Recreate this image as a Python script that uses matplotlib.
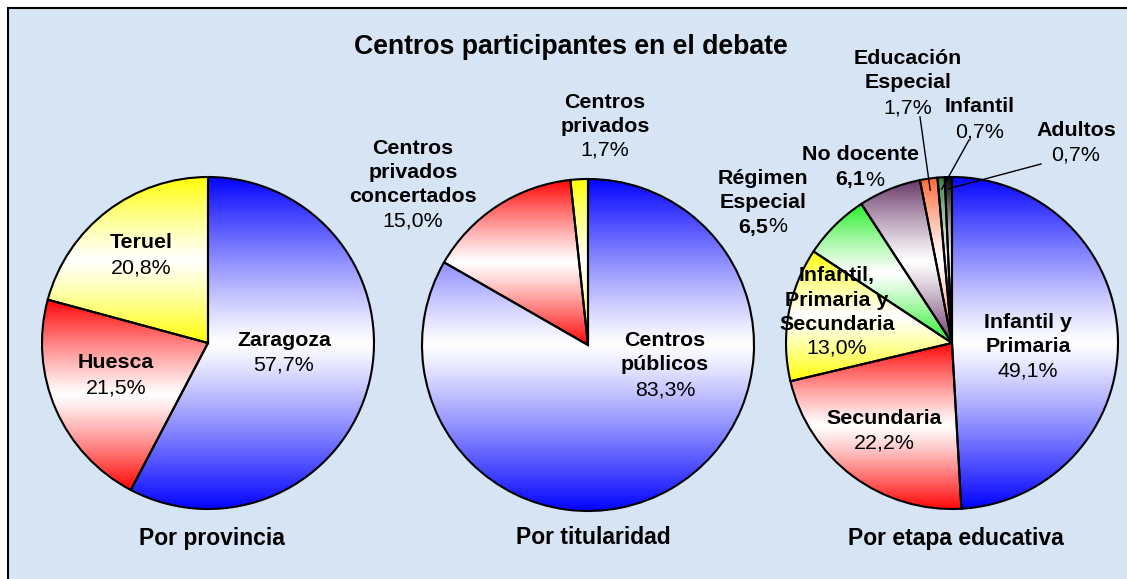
import numpy as np
import matplotlib
matplotlib.use("Agg")
import matplotlib.pyplot as plt
import matplotlib.colors as mcolors
from matplotlib.patches import Rectangle

plt.rcParams['font.family'] = ['Liberation Sans', 'DejaVu Sans']

# ---- data ----
title = "Centros participantes en el debate"
prov_labels = ["Zaragoza", "Huesca", "Teruel"]
prov_values = [57.7, 21.5, 20.8]
prov_colors = ["#0000ff", "#ff0000", "#ffff00"]

tit_labels = ["Centros\npúblicos", "Centros\nprivados\nconcertados", "Centros\nprivados"]
tit_values = [83.3, 15.0, 1.7]
tit_colors = ["#0000ff", "#ff0000", "#ffff00"]

etapa_labels = ["Infantil y\nPrimaria", "Secundaria", "Infantil,\nPrimaria y\nSecundaria",
                "Régimen\nEspecial", "No docente", "Educación\nEspecial", "Infantil", "Adultos"]
etapa_values = [49.1, 22.2, 13.0, 6.5, 6.1, 1.7, 0.7, 0.7]
etapa_colors = ["#0000ff", "#ff0000", "#ffff00", "#22ee22", "#663366", "#ff6633", "#2f7a3a", "#000000"]

subtitles = ["Por provincia", "Por titularidad", "Por etapa educativa"]

W, H = 1127, 579
R = 166.0
BG = "#d6e4f4"
FS = 15.4

fig = plt.figure(figsize=(W / 100, H / 100), dpi=100)
fig.patch.set_facecolor("white")
fig.add_artist(Rectangle((8 / W, -0.02), 1.05, (H - 8) / H + 0.02, transform=fig.transFigure,
                         facecolor=BG, edgecolor="black", lw=1.5, zorder=-10))


def make_ax(cx, cy):
    half = 1.2 * R
    ax = fig.add_axes([(cx - half) / W, (H - cy - half) / H, 2 * half / W, 2 * half / H])
    ax.set_axis_off()
    return ax


def grad_fill(ax, wedge, color):
    c = np.array(mcolors.to_rgb(color))
    th = np.linspace(np.radians(wedge.theta1), np.radians(wedge.theta2), 300)
    cx, cy = wedge.center
    r = wedge.r
    xs = np.concatenate([[cx], cx + r * np.cos(th)])
    ys = np.concatenate([[cy], cy + r * np.sin(th)])
    t = np.linspace(0, 1, 256)
    w = np.abs(2 * t - 1) ** 1.15
    img = 1 - w[:, None] * (1 - c[None, :])
    im = ax.imshow(img.reshape(256, 1, 3), extent=(xs.min() - 0.01, xs.max() + 0.01, ys.min() - 0.01, ys.max() + 0.01),
                   origin="lower", interpolation="bilinear", aspect="auto", zorder=1)
    im.set_clip_path(wedge)
    wedge.set_facecolor("none")
    wedge.set_zorder(2)


def draw_pie(ax, values, colors):
    wedges, _ = ax.pie(values, startangle=90, counterclock=False, radius=1.0,
                       wedgeprops=dict(edgecolor="black", linewidth=1.5))
    for wdg, col in zip(wedges, colors):
        grad_fill(ax, wdg, col)
    ax.set_xlim(-1.2, 1.2)
    ax.set_ylim(-1.2, 1.2)
    ax.set_aspect("equal")
    return wedges


def lab(ax, cx, cy, px, lines_y, name, pct, bold_pct_num=False):
    names = name.split("\n")
    for nm, py in zip(names, lines_y[:len(names)]):
        ax.text((px - cx) / R, (cy - py) / R, nm, ha="center", va="center",
                fontsize=FS, fontweight="bold", zorder=5)
    py = lines_y[len(names)]
    if bold_pct_num:
        num = pct.rstrip("%")
        ax.annotate(num, ((px - cx) / R, (cy - py) / R), xytext=(0.25 * FS, 0), textcoords="offset points",
                    ha="right", va="center", fontsize=FS, fontweight="bold", zorder=5)
        ax.annotate("%", ((px - cx) / R, (cy - py) / R), xytext=(0.25 * FS, 0), textcoords="offset points",
                    ha="left", va="center", fontsize=FS, zorder=5)
    else:
        ax.text((px - cx) / R, (cy - py) / R, pct, ha="center", va="center", fontsize=FS, zorder=5)


def fmt(v):
    return f"{v:.1f}".replace(".", ",") + "%"


# ---- pie 1 ----
c1 = (208, 343)
ax1 = make_ax(*c1)
draw_pie(ax1, prov_values, prov_colors)
pos1 = [(284, [340, 365]), (116, [363, 388]), (141, [242, 268])]
for (px, ly), nm, v in zip(pos1, prov_labels, prov_values):
    lab(ax1, c1[0], c1[1], px, ly, nm, fmt(v))

# ---- pie 2 ----
c2 = (588, 345)
ax2 = make_ax(*c2)
draw_pie(ax2, tit_values, tit_colors)
pos2 = [(665, [341, 365, 390]), (413, [148, 172, 196, 221]), (605, [102, 126, 150])]
for (px, ly), nm, v in zip(pos2, tit_labels, tit_values):
    lab(ax2, c2[0], c2[1], px, ly, nm, fmt(v))

# ---- pie 3 ----
c3 = (952, 343)
ax3 = make_ax(*c3)
w3 = draw_pie(ax3, etapa_values, etapa_colors)
pos3 = [(1028, [323, 346, 371]), (884, [418, 443]), (837, [276, 300, 324, 348]),
        (763, [178, 202, 227]), (860, [155, 180]), (908, [58, 82, 108]),
        (980, [106, 132]), (1076, [131, 155])]
boldnum = [False, False, False, True, True, False, False, False]
for (px, ly), nm, v, b in zip(pos3, etapa_labels, etapa_values, boldnum):
    lab(ax3, c3[0], c3[1], px, ly, nm, fmt(v), bold_pct_num=b)

# leader lines for the small slices
starts = {5: (920, 117), 6: (969, 140), 7: (1041, 164)}
for i, (sx, sy) in starts.items():
    wdg = w3[i]
    mid = np.radians((wdg.theta1 + wdg.theta2) / 2)
    ex, ey = 0.93 * np.cos(mid), 0.93 * np.sin(mid)
    ax3.plot([(sx - c3[0]) / R, ex], [(c3[1] - sy) / R, ey], color="black", lw=1.0,
             clip_on=False, zorder=4)

# ---- titles ----
fig.text(571 / W, 1 - 47 / H, title, ha="center", va="center", fontsize=19.2, fontweight="bold")
for x, s in zip([212, 593, 956], subtitles):
    fig.text(x / W, 1 - 538 / H, s, ha="center", va="center", fontsize=16.5, fontweight="bold")

fig.savefig("out.png", dpi=100)
